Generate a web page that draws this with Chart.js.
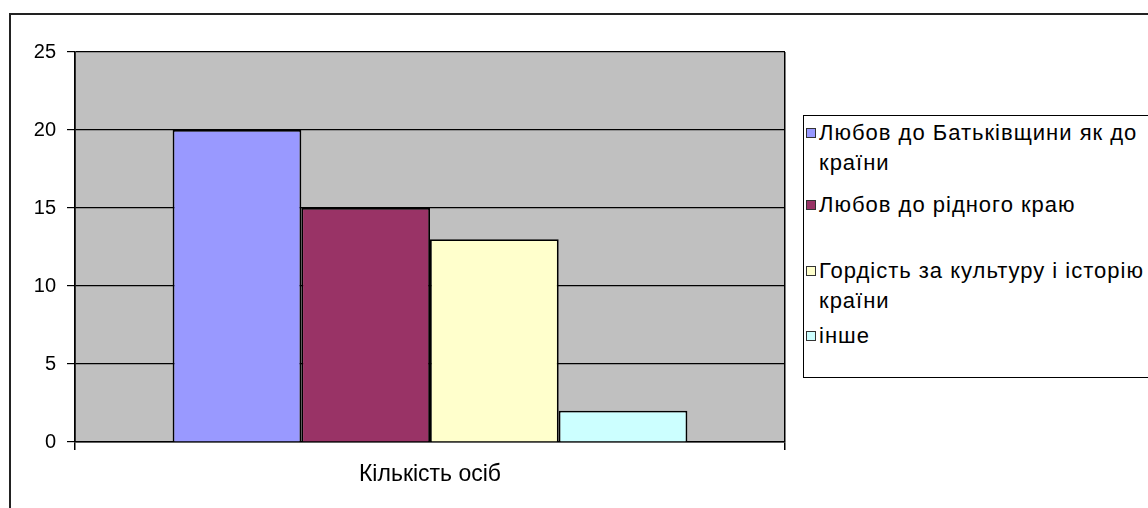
<!DOCTYPE html>
<html>
<head>
<meta charset="utf-8">
<script src="https://cdn.jsdelivr.net/npm/chart.js@4"></script>
<style>
  body { margin: 0; background: #fff; font-family: "Liberation Sans", Arial, sans-serif; }
  #wrap { position: relative; width: 1148px; height: 508px; overflow: hidden; }
  #frame { position: absolute; left: 9px; top: 13px; width: 1200px; height: 600px;
           border-left: 2px solid #222; border-top: 2px solid #222; }
  #legend { position: absolute; left: 803px; top: 115px; width: 400px; height: 261px;
            border: 1.5px solid #000; background: #fff; }
  .item { position: absolute; left: 2px; font-size: 22px; line-height: 30px; color: #000; letter-spacing: 1px; }
  .mark { display: inline-block; width: 8px; height: 8px; border: 1.5px solid #333;
          margin-right: 3px; vertical-align: 2px; }
  .item span.t { display: inline-block; vertical-align: top; }
</style>
</head>
<body>
<div id="wrap">
  <div id="frame"></div>
  <canvas id="myChart" width="1148" height="508"></canvas>
  <div id="legend"></div>
</div>
<script>
var categories = ['Кількість осіб'];
var seriesNames = ['Любов до Батьківщини як до країни', 'Любов до рідного краю', 'Гордість за культуру і історію країни', 'інше'];
var seriesValues = [20, 15, 13, 2];
var seriesColors = ['#9999ff', '#993366', '#ffffcc', '#ccffff'];
var yTicks = [0, 5, 10, 15, 20, 25];

// legend (HTML, like the Excel one)
var legendLines = [['Любов до Батьківщини як до', 'країни'], ['Любов до рідного краю'], ['Гордість за культуру і історію', 'країни'], ['інше']];
var legendTops = [2, 74, 140, 205];
var legendDiv = document.getElementById('legend');
seriesNames.forEach(function (name, i) {
    var el = document.createElement('div');
    el.className = 'item';
    el.style.top = legendTops[i] + 'px';
    el.innerHTML = '<span class="mark" style="background:' + seriesColors[i] + '"></span>' +
        '<span class="t">' + legendLines[i].join('<br>') + '</span>';
    legendDiv.appendChild(el);
});

var datasets = seriesNames.map(function (name, i) {
    return {
        label: name,
        data: [seriesValues[i]],
        backgroundColor: seriesColors[i],
        borderColor: '#000',
        borderWidth: 1.8,
        borderSkipped: 'bottom'
    };
});

var plotBg = {
    id: 'plotBg',
    beforeDraw: function (chart) {
        var a = chart.chartArea, ctx = chart.ctx;
        ctx.save();
        ctx.fillStyle = '#c0c0c0';
        ctx.fillRect(a.left, a.top, a.right - a.left, a.bottom - a.top);
        ctx.restore();
    }
};

const config = {
    type: 'bar',
    data: { labels: categories, datasets: datasets },
    options: {
        responsive: false,
        animation: false,
        layout: { padding: { top: 52, right: 363, left: 20, bottom: 10 } },
        plugins: { legend: { display: false }, tooltip: { enabled: false } },
        datasets: { bar: { barPercentage: 1, categoryPercentage: 0.725 } },
        scales: {
            x: {
                offset: true,
                grid: { display: true, offset: true, color: '#000', lineWidth: 1.5, tickLength: 8 },
                border: { color: '#000', width: 1.5 },
                ticks: { color: '#000', font: { family: 'Liberation Sans', size: 23 }, padding: 11 },
                afterFit: function (s) { s.height = 56; }
            },
            y: {
                min: 0, max: 25,
                afterBuildTicks: function (s) { s.ticks = yTicks.map(function (v) { return { value: v }; }); },
                grid: { color: '#000', lineWidth: 1.2, tickLength: 8 },
                border: { color: '#000', width: 1.5 },
                ticks: { color: '#000', font: { family: 'Liberation Sans', size: 20 }, padding: 11 },
                afterFit: function (s) { s.width = 55; }
            }
        }
    },
    plugins: [plotBg]
};

const myChart = new Chart(document.getElementById('myChart'), config);
</script>
</body>
</html>
